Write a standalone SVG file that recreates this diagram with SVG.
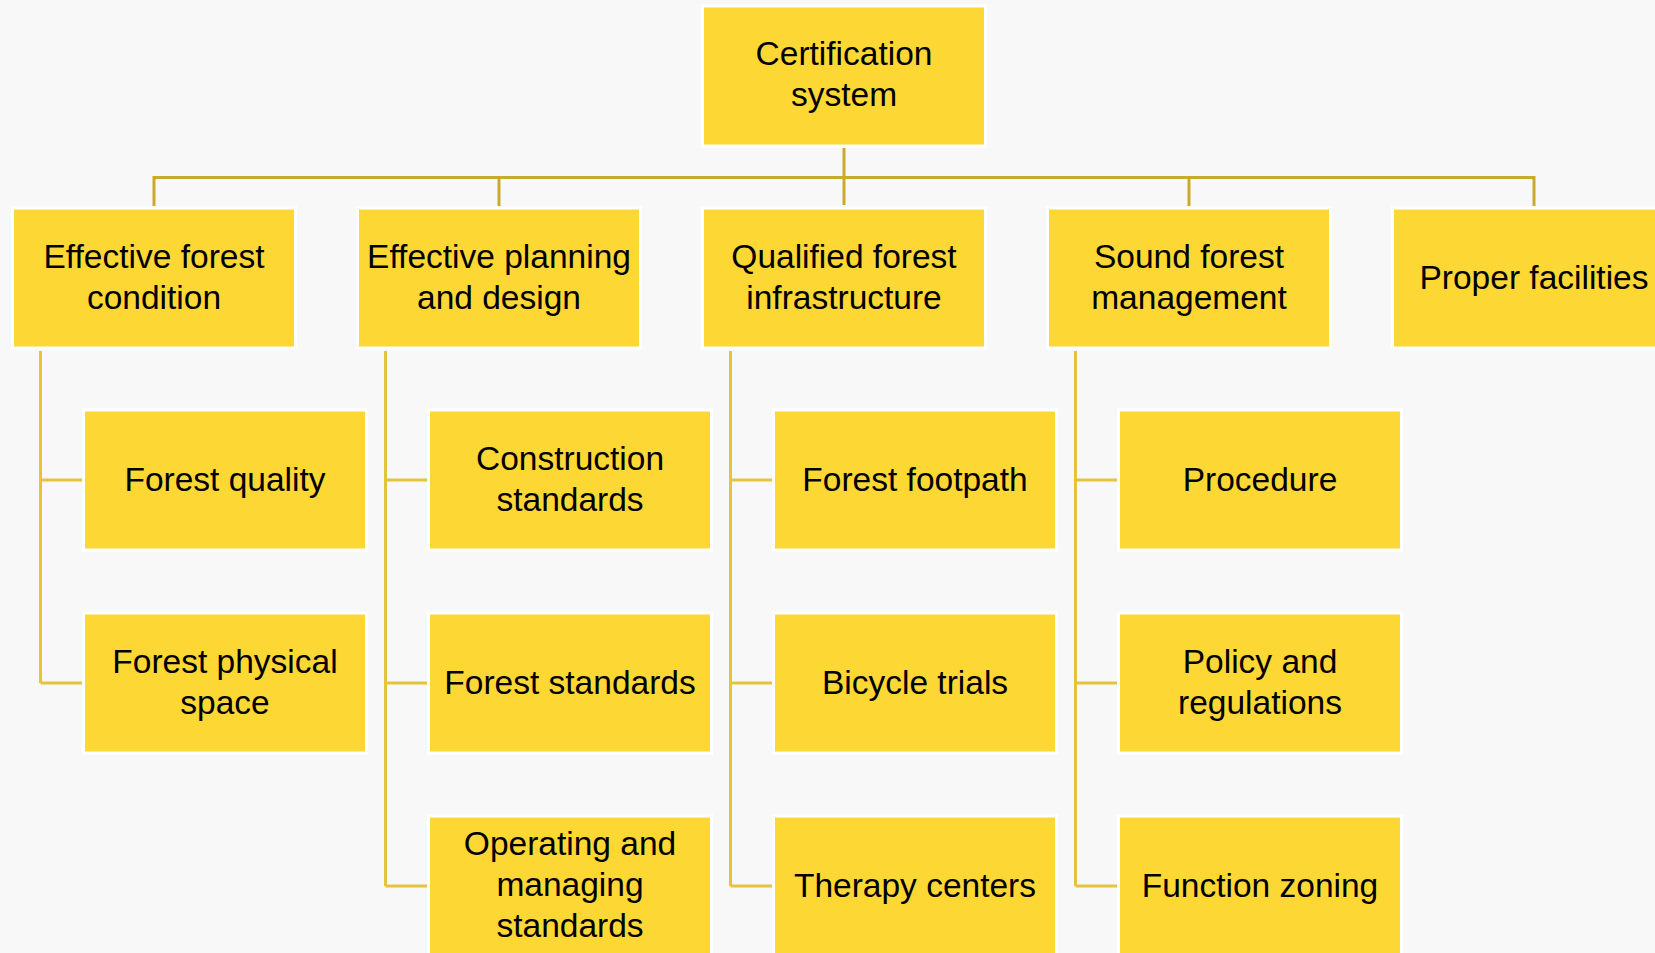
<svg xmlns="http://www.w3.org/2000/svg" width="1655" height="953" viewBox="0 0 1655 953">
<style>
.bg{fill:#f8f8f8}
.box{fill:#fdd835;stroke:#ffffff;stroke-width:3}
.t{font-family:"Liberation Sans",Arial,sans-serif;font-size:33.5px;fill:#000;text-anchor:middle}
.top{stroke:#c9aa2e;stroke-width:3;fill:none}
.sub{stroke:#e5c33a;stroke-width:3;fill:none}
</style>
<rect class="bg" x="0" y="0" width="1655" height="953"/>
<g id="connectors">
<path class="top" d="M844 148V205M154 177.5H1534M154 176V206M499 176V206M1189 176V206M1534 176V206"/>
<path class="sub" d="M40.5 351V683M40.5 480H82M40.5 683H82"/>
<path class="sub" d="M385.5 351V886M385.5 480H427M385.5 683H427M385.5 886H427"/>
<path class="sub" d="M730.5 351V886M730.5 480H772M730.5 683H772M730.5 886H772"/>
<path class="sub" d="M1075.5 351V886M1075.5 480H1117M1075.5 683H1117M1075.5 886H1117"/>
</g>
<g id="root"><rect class="box" x="702.5" y="6" width="283" height="140"/><text class="t" x="844" y="65">Certification</text><text class="t" x="844" y="106">system</text></g>
<g id="c1"><rect class="box" x="12.5" y="208" width="283" height="140"/><text class="t" x="154" y="268">Effective forest</text><text class="t" x="154" y="309">condition</text></g>
<g id="c2"><rect class="box" x="357.5" y="208" width="283" height="140"/><text class="t" x="499" y="268">Effective planning</text><text class="t" x="499" y="309">and design</text></g>
<g id="c3"><rect class="box" x="702.5" y="208" width="283" height="140"/><text class="t" x="844" y="268">Qualified forest</text><text class="t" x="844" y="309">infrastructure</text></g>
<g id="c4"><rect class="box" x="1047.5" y="208" width="283" height="140"/><text class="t" x="1189" y="268">Sound forest</text><text class="t" x="1189" y="309">management</text></g>
<g id="c5"><rect class="box" x="1392.5" y="208" width="283" height="140"/><text class="t" x="1534" y="289">Proper facilities</text></g>
<g id="c1a"><rect class="box" x="83.5" y="410" width="283" height="140"/><text class="t" x="225" y="491">Forest quality</text></g>
<g id="c1b"><rect class="box" x="83.5" y="613" width="283" height="140"/><text class="t" x="225" y="673">Forest physical</text><text class="t" x="225" y="714">space</text></g>
<g id="c2a"><rect class="box" x="428.5" y="410" width="283" height="140"/><text class="t" x="570" y="470">Construction</text><text class="t" x="570" y="511">standards</text></g>
<g id="c2b"><rect class="box" x="428.5" y="613" width="283" height="140"/><text class="t" x="570" y="694">Forest standards</text></g>
<g id="c2c"><rect class="box" x="428.5" y="816" width="283" height="140"/><text class="t" x="570" y="855">Operating and</text><text class="t" x="570" y="896">managing</text><text class="t" x="570" y="937">standards</text></g>
<g id="c3a"><rect class="box" x="773.5" y="410" width="283" height="140"/><text class="t" x="915" y="491">Forest footpath</text></g>
<g id="c3b"><rect class="box" x="773.5" y="613" width="283" height="140"/><text class="t" x="915" y="694">Bicycle trials</text></g>
<g id="c3c"><rect class="box" x="773.5" y="816" width="283" height="140"/><text class="t" x="915" y="897">Therapy centers</text></g>
<g id="c4a"><rect class="box" x="1118.5" y="410" width="283" height="140"/><text class="t" x="1260" y="491">Procedure</text></g>
<g id="c4b"><rect class="box" x="1118.5" y="613" width="283" height="140"/><text class="t" x="1260" y="673">Policy and</text><text class="t" x="1260" y="714">regulations</text></g>
<g id="c4c"><rect class="box" x="1118.5" y="816" width="283" height="140"/><text class="t" x="1260" y="897">Function zoning</text></g>
</svg>
